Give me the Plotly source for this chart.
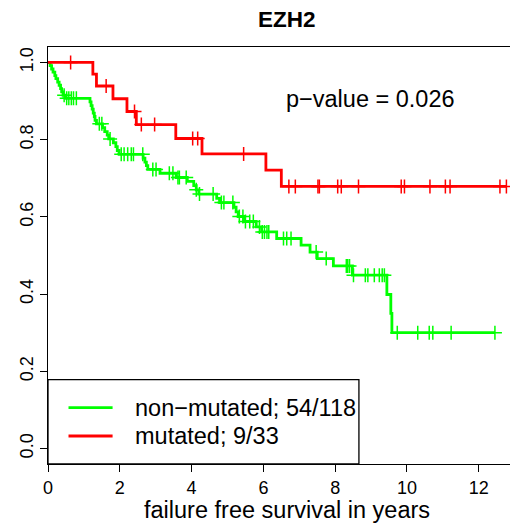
import numpy as np
import plotly.graph_objects as go

# ---- Kaplan-Meier estimates, failure free survival by EZH2 status ----
group_names = ["non−mutated", "mutated"]
group_events = [54, 9]
group_sizes = [118, 33]
group_colors = ["#00ff00", "#ff0000"]

# non-mutated: event times (years) and survival right after each event
nonmut_event_times = [0.06, 0.10, 0.14, 0.19, 0.22, 0.27, 0.31, 0.35, 0.38, 0.42, 0.50,
                      1.17, 1.20, 1.23, 1.26, 1.29, 1.31, 1.35, 1.52, 1.58, 1.65, 1.69,
                      1.82, 1.89, 1.93, 1.98, 2.65, 2.70, 2.74, 2.78, 3.12, 3.57, 3.88,
                      4.06, 4.13, 4.20, 4.70, 4.78, 5.18, 5.24, 5.30, 5.45, 5.80, 5.95,
                      6.37, 7.05, 7.30, 7.50, 7.95, 8.48, 9.44, 9.55, 9.58]
nonmut_survival = [0.992, 0.983, 0.975, 0.966, 0.958, 0.949, 0.941, 0.932, 0.924, 0.915, 0.907,
                   0.898, 0.888, 0.879, 0.869, 0.860, 0.850, 0.841, 0.831, 0.821, 0.812, 0.802,
                   0.792, 0.782, 0.772, 0.762, 0.752, 0.742, 0.733, 0.723, 0.713, 0.702, 0.692,
                   0.681, 0.670, 0.659, 0.648, 0.637, 0.625, 0.613, 0.601, 0.588, 0.574, 0.561,
                   0.544, 0.527, 0.509, 0.492, 0.473, 0.449, 0.399, 0.350, 0.300]
nonmut_censor_times = [0.45, 0.52, 0.58, 0.65, 0.71, 0.79, 1.43, 1.50, 1.73, 2.04, 2.12,
                       2.22, 2.32, 2.38, 2.64, 2.92, 3.01, 3.38, 3.48, 3.62, 3.66, 3.85,
                       4.13, 4.22, 4.60, 4.83, 4.90, 5.15, 5.33, 5.43, 5.50, 5.62, 5.72,
                       5.89, 5.97, 6.03, 6.10, 6.15, 6.56, 6.65, 6.77, 7.47, 7.75, 8.31,
                       8.35, 8.40, 8.51, 8.84, 8.91, 9.09, 9.23, 9.31, 9.37, 9.73, 10.30,
                       10.62, 10.72, 11.23, 12.45]
nonmut_last_followup = 12.45

# mutated
mut_event_times = [1.25, 1.35, 1.81, 2.20, 2.46, 3.56, 4.29, 6.07, 6.50]
mut_survival = [0.970, 0.939, 0.906, 0.873, 0.839, 0.803, 0.763, 0.721, 0.679]
mut_censor_times = [0.63, 1.62, 2.41, 2.60, 2.97, 4.03, 4.17, 5.45, 6.71, 6.89, 7.52,
                    7.56, 8.07, 8.17, 8.65, 9.84, 9.93, 10.64, 11.07, 11.20, 12.59, 12.77]
mut_last_followup = 12.77

x_ticks = [0, 2, 4, 6, 8, 10, 12]
y_ticks = [0.0, 0.2, 0.4, 0.6, 0.8, 1.0]

title_text = "EZH2"
x_label = "failure free survival in years"
p_value_text = "p−value = 0.026"

FONT = "Liberation Sans, Arial, Helvetica, sans-serif"


def step_curve(times, surv, end):
    xs = [0.0] + list(times) + [end]
    ys = [1.0] + list(surv) + [surv[-1]]
    return xs, ys


def survival_at(times, surv, t):
    idx = np.searchsorted(np.asarray(times), t, side="right")
    return 1.0 if idx == 0 else surv[idx - 1]


groups = [
    (nonmut_event_times, nonmut_survival, nonmut_censor_times, nonmut_last_followup),
    (mut_event_times, mut_survival, mut_censor_times, mut_last_followup),
]

fig = go.Figure()
for (times, surv, cens, end), color in zip(groups, group_colors):
    xs, ys = step_curve(times, surv, end)
    fig.add_trace(go.Scatter(x=xs, y=ys, mode="lines", line=dict(color=color, width=2.8, shape="hv"),
                             showlegend=False, hoverinfo="skip"))
    cy = [survival_at(times, surv, t) for t in cens]
    fig.add_trace(go.Scatter(x=cens, y=cy, mode="markers",
                             marker=dict(symbol="cross-thin", size=10, line=dict(color=color, width=1.5)),
                             showlegend=False, hoverinfo="skip"))

axis_common = dict(showgrid=False, zeroline=False, showline=True, linecolor="black", linewidth=1.3,
                   ticks="outside", ticklen=7, tickwidth=1.3, tickcolor="black",
                   tickfont=dict(family=FONT, size=18, color="black"))

fig.update_layout(
    width=510, height=524,
    margin=dict(l=48, r=0, t=47, b=60),
    paper_bgcolor="white", plot_bgcolor="white",
    xaxis=dict(range=[0, 12.87], tickvals=x_ticks, mirror=True, **axis_common),
    yaxis=dict(range=[-0.04, 1.04], tickvals=y_ticks, ticktext=[f"{v:.1f}" for v in y_ticks],
               tickangle=-90, **axis_common),
)

# plot-region center (the region extends past the right edge)
cx = 0.518
annotations = [
    dict(text=f"<b>{title_text}</b>", x=cx, y=1.065, xref="paper", yref="paper",
         showarrow=False, xanchor="center", yanchor="middle", font=dict(family=FONT, size=22.5, color="black")),
    dict(text=x_label, x=cx, y=-0.111, xref="paper", yref="paper",
         showarrow=False, xanchor="center", yanchor="middle", font=dict(family=FONT, size=23.5, color="black")),
    dict(text=p_value_text, x=0.698, y=0.875, xref="paper", yref="paper",
         showarrow=False, xanchor="center", yanchor="middle", font=dict(family=FONT, size=23.5, color="black")),
]

# legend box in the lower-left corner
legend_rows_y = [0.1353, 0.0672]
shapes = [dict(type="rect", xref="paper", yref="paper", x0=0, x1=0.673, y0=0, y1=0.2025,
               line=dict(color="black", width=1.3), fillcolor="white", layer="above")]
for name, ev, n, color, ly in zip(group_names, group_events, group_sizes, group_colors, legend_rows_y):
    shapes.append(dict(type="line", xref="paper", yref="paper", x0=0.0444, x1=0.1398, y0=ly, y1=ly,
                       line=dict(color=color, width=2.8)))
    annotations.append(dict(text=f"{name}; {ev}/{n}", x=0.183, y=ly, xref="paper", yref="paper",
                            showarrow=False, xanchor="left", yanchor="middle",
                            font=dict(family=FONT, size=23.5, color="black")))

fig.update_layout(annotations=annotations, shapes=shapes)
fig.write_html("out.html")
